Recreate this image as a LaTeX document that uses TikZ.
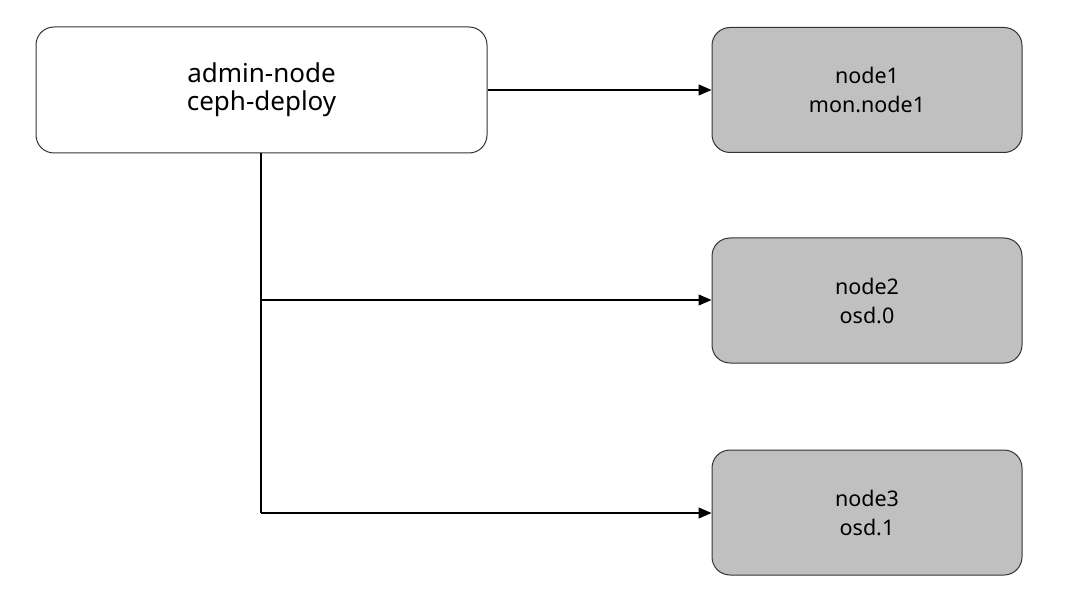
\documentclass[tikz,border=0pt]{standalone}
\usepackage{fontspec}
\setmainfont{Noto Sans}
\usetikzlibrary{arrows.meta}
\begin{document}
\begin{tikzpicture}[x=1pt,y=-1pt,
  adminbox/.style={draw=black!80,line width=1pt,fill=white,rounded corners=18pt,minimum width=451pt,minimum height=126pt,inner sep=0pt,align=center,font=\fontsize{26}{28}\selectfont},
  hostbox/.style={draw=black!80,line width=1pt,fill={rgb,255:red,192;green,192;blue,192},rounded corners=18pt,minimum width=310pt,minimum height=125pt,inner sep=0pt,align=center,font=\fontsize{21.5}{29}\selectfont},
  conn/.style={line width=1.3pt,draw=black},
  arr/.style={conn,-{Triangle[length=13pt,width=11pt]}}]
\useasboundingbox (0,0) rectangle (1080,599);
\node[adminbox] (admin) at (261.5,90) {admin-node\\ceph-deploy};
\node[hostbox] (n1) at (867,90) {node1\\mon.node1};
\node[hostbox] (n2) at (867,300.5) {node2\\osd.0};
\node[hostbox] (n3) at (867,512.5) {node3\\osd.1};
\coordinate (b2) at (261,300);
\coordinate (b3) at (261,513);
\draw[arr] (admin.east) -- (n1.west);
\draw[conn] (admin.south -| b2) -- (b3);
\draw[arr] (b2) -- (b2 -| n2.west);
\draw[arr] (b3) -- (b3 -| n3.west);
\end{tikzpicture}
\end{document}
